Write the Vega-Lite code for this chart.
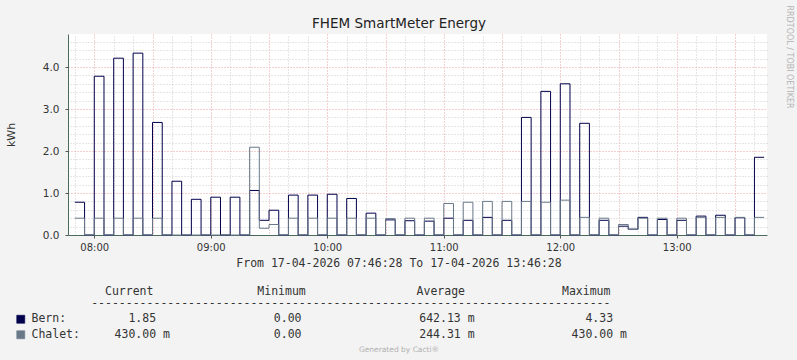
{
  "$schema": "https://vega.github.io/schema/vega-lite/v6.json",
  "width": 699,
  "height": 201,
  "autosize": {"type": "none"},
  "padding": {"left": 68, "top": 34, "right": 30, "bottom": 125},
  "background": "#f3f3f3",
  "view": {"fill": "#ffffff", "stroke": null},
  "data": {
    "values": [
      {"t": "2026-04-17T07:50:00Z", "Bern": 0.78, "Chalet": 0.40},
      {"t": "2026-04-17T07:55:00Z", "Bern": 0, "Chalet": 0},
      {"t": "2026-04-17T08:00:00Z", "Bern": 3.78, "Chalet": 0.40},
      {"t": "2026-04-17T08:05:00Z", "Bern": 0, "Chalet": 0},
      {"t": "2026-04-17T08:10:00Z", "Bern": 4.21, "Chalet": 0.40},
      {"t": "2026-04-17T08:15:00Z", "Bern": 0, "Chalet": 0},
      {"t": "2026-04-17T08:20:00Z", "Bern": 4.33, "Chalet": 0.40},
      {"t": "2026-04-17T08:25:00Z", "Bern": 0, "Chalet": 0},
      {"t": "2026-04-17T08:30:00Z", "Bern": 2.68, "Chalet": 0.40},
      {"t": "2026-04-17T08:35:00Z", "Bern": 0, "Chalet": 0},
      {"t": "2026-04-17T08:40:00Z", "Bern": 1.28, "Chalet": 0},
      {"t": "2026-04-17T08:45:00Z", "Bern": 0, "Chalet": 0},
      {"t": "2026-04-17T08:50:00Z", "Bern": 0.85, "Chalet": 0},
      {"t": "2026-04-17T08:55:00Z", "Bern": 0, "Chalet": 0},
      {"t": "2026-04-17T09:00:00Z", "Bern": 0.90, "Chalet": 0},
      {"t": "2026-04-17T09:05:00Z", "Bern": 0, "Chalet": 0},
      {"t": "2026-04-17T09:10:00Z", "Bern": 0.90, "Chalet": 0},
      {"t": "2026-04-17T09:15:00Z", "Bern": 0, "Chalet": 0},
      {"t": "2026-04-17T09:20:00Z", "Bern": 1.06, "Chalet": 2.09},
      {"t": "2026-04-17T09:25:00Z", "Bern": 0.35, "Chalet": 0.16},
      {"t": "2026-04-17T09:30:00Z", "Bern": 0.59, "Chalet": 0.25},
      {"t": "2026-04-17T09:35:00Z", "Bern": 0, "Chalet": 0},
      {"t": "2026-04-17T09:40:00Z", "Bern": 0.95, "Chalet": 0.40},
      {"t": "2026-04-17T09:45:00Z", "Bern": 0, "Chalet": 0},
      {"t": "2026-04-17T09:50:00Z", "Bern": 0.95, "Chalet": 0.40},
      {"t": "2026-04-17T09:55:00Z", "Bern": 0, "Chalet": 0},
      {"t": "2026-04-17T10:00:00Z", "Bern": 0.97, "Chalet": 0.40},
      {"t": "2026-04-17T10:05:00Z", "Bern": 0, "Chalet": 0},
      {"t": "2026-04-17T10:10:00Z", "Bern": 0.87, "Chalet": 0.40},
      {"t": "2026-04-17T10:15:00Z", "Bern": 0, "Chalet": 0},
      {"t": "2026-04-17T10:20:00Z", "Bern": 0.52, "Chalet": 0.40},
      {"t": "2026-04-17T10:25:00Z", "Bern": 0, "Chalet": 0},
      {"t": "2026-04-17T10:30:00Z", "Bern": 0.36, "Chalet": 0.39},
      {"t": "2026-04-17T10:35:00Z", "Bern": 0, "Chalet": 0},
      {"t": "2026-04-17T10:40:00Z", "Bern": 0.34, "Chalet": 0.40},
      {"t": "2026-04-17T10:45:00Z", "Bern": 0, "Chalet": 0},
      {"t": "2026-04-17T10:50:00Z", "Bern": 0.33, "Chalet": 0.40},
      {"t": "2026-04-17T10:55:00Z", "Bern": 0, "Chalet": 0},
      {"t": "2026-04-17T11:00:00Z", "Bern": 0.40, "Chalet": 0.75},
      {"t": "2026-04-17T11:05:00Z", "Bern": 0, "Chalet": 0},
      {"t": "2026-04-17T11:10:00Z", "Bern": 0.35, "Chalet": 0.78},
      {"t": "2026-04-17T11:15:00Z", "Bern": 0, "Chalet": 0},
      {"t": "2026-04-17T11:20:00Z", "Bern": 0.42, "Chalet": 0.80},
      {"t": "2026-04-17T11:25:00Z", "Bern": 0, "Chalet": 0},
      {"t": "2026-04-17T11:30:00Z", "Bern": 0.35, "Chalet": 0.80},
      {"t": "2026-04-17T11:35:00Z", "Bern": 0, "Chalet": 0},
      {"t": "2026-04-17T11:40:00Z", "Bern": 2.80, "Chalet": 0.80},
      {"t": "2026-04-17T11:45:00Z", "Bern": 0, "Chalet": 0},
      {"t": "2026-04-17T11:50:00Z", "Bern": 3.42, "Chalet": 0.78},
      {"t": "2026-04-17T11:55:00Z", "Bern": 0, "Chalet": 0},
      {"t": "2026-04-17T12:00:00Z", "Bern": 3.60, "Chalet": 0.83},
      {"t": "2026-04-17T12:05:00Z", "Bern": 0, "Chalet": 0},
      {"t": "2026-04-17T12:10:00Z", "Bern": 2.66, "Chalet": 0.42},
      {"t": "2026-04-17T12:15:00Z", "Bern": 0, "Chalet": 0},
      {"t": "2026-04-17T12:20:00Z", "Bern": 0.35, "Chalet": 0.40},
      {"t": "2026-04-17T12:25:00Z", "Bern": 0, "Chalet": 0},
      {"t": "2026-04-17T12:30:00Z", "Bern": 0.21, "Chalet": 0.25},
      {"t": "2026-04-17T12:35:00Z", "Bern": 0.14, "Chalet": 0.13},
      {"t": "2026-04-17T12:40:00Z", "Bern": 0.42, "Chalet": 0.40},
      {"t": "2026-04-17T12:45:00Z", "Bern": 0, "Chalet": 0},
      {"t": "2026-04-17T12:50:00Z", "Bern": 0.37, "Chalet": 0.40},
      {"t": "2026-04-17T12:55:00Z", "Bern": 0, "Chalet": 0},
      {"t": "2026-04-17T13:00:00Z", "Bern": 0.35, "Chalet": 0.40},
      {"t": "2026-04-17T13:05:00Z", "Bern": 0, "Chalet": 0},
      {"t": "2026-04-17T13:10:00Z", "Bern": 0.45, "Chalet": 0.42},
      {"t": "2026-04-17T13:15:00Z", "Bern": 0, "Chalet": 0},
      {"t": "2026-04-17T13:20:00Z", "Bern": 0.47, "Chalet": 0.42},
      {"t": "2026-04-17T13:25:00Z", "Bern": 0, "Chalet": 0},
      {"t": "2026-04-17T13:30:00Z", "Bern": 0.41, "Chalet": 0.42},
      {"t": "2026-04-17T13:35:00Z", "Bern": 0, "Chalet": 0},
      {"t": "2026-04-17T13:40:00Z", "Bern": 1.85, "Chalet": 0.42},
      {"t": "2026-04-17T13:45:00Z", "Bern": 1.85, "Chalet": 0.42}
    ]
  },
  "transform": [{"fold": ["Bern", "Chalet"], "as": ["series", "v"]}],
  "layer": [
    {
      "mark": {"type": "line", "strokeOpacity": 0},
      "encoding": {
        "x": {
          "field": "t", "type": "temporal",
          "scale": {"type": "utc", "domain": [1776411988000, 1776433588000]},
          "axis": {
            "orient": "top", "grid": true,
            "values": [1776412200000, 1776413400000, 1776414000000, 1776415200000, 1776415800000, 1776417000000, 1776417600000, 1776418800000, 1776419400000, 1776420600000, 1776421200000, 1776422400000, 1776423000000, 1776424200000, 1776424800000, 1776426000000, 1776426600000, 1776427800000, 1776428400000, 1776429600000, 1776430200000, 1776431400000, 1776432000000, 1776433200000],
            "gridColor": "#cccccc", "gridDash": [1, 2],
            "labels": false, "ticks": false, "domain": false,
            "title": "FHEM SmartMeter Energy", "titleFont": "DejaVu Sans", "titleFontSize": 13.5, "titleFontWeight": "normal", "titleColor": "#222222",
            "titleX": 330.5, "titleY": -10.5, "titleAlign": "center", "titleBaseline": "middle", "titleAngle": 0
          }
        },
        "y": {
          "field": "v", "type": "quantitative",
          "scale": {"domain": [0, 4.786], "nice": false, "zero": true},
          "axis": {
            "orient": "right", "grid": true,
            "values": [0.2, 0.4, 0.6, 0.8, 1.2, 1.4, 1.6, 1.8, 2.2, 2.4, 2.6, 2.8, 3.2, 3.4, 3.6, 3.8, 4.2, 4.4, 4.6],
            "gridColor": "#cccccc", "gridDash": [1, 2],
            "labels": false, "ticks": false, "domain": false,
            "title": "RRDTOOL / TOBI OETIKER", "titleFont": "DejaVu Sans", "titleFontSize": 8, "titleFontWeight": "normal", "titleColor": "#b4b4b4",
            "titleAngle": 90, "titleX": 21, "titleY": -29, "titleAlign": "left", "titleBaseline": "middle"
          }
        }
      }
    },
    {
      "mark": {"type": "line", "strokeOpacity": 0},
      "encoding": {
        "x": {
          "field": "t", "type": "temporal",
          "scale": {"type": "utc", "domain": [1776411988000, 1776433588000]},
          "axis": {
            "orient": "bottom", "grid": true,
            "values": [1776412800000, 1776414600000, 1776416400000, 1776418200000, 1776420000000, 1776421800000, 1776423600000, 1776425400000, 1776427200000, 1776429000000, 1776430800000, 1776432600000],
            "gridColor": "#eba0a0", "gridDash": [1, 2],
            "labels": false, "ticks": false, "domain": false,
            "title": "Generated by Cacti®", "titleFont": "DejaVu Sans", "titleFontSize": 7.5, "titleFontWeight": "normal", "titleColor": "#b0b0b0",
            "titleX": 330.5, "titleY": 114, "titleAlign": "center", "titleBaseline": "middle", "titleAngle": 0
          }
        },
        "y": {
          "field": "v", "type": "quantitative",
          "scale": {"domain": [0, 4.786], "nice": false, "zero": true},
          "axis": {
            "orient": "left", "grid": true, "values": [1, 2, 3, 4],
            "gridColor": "#eba0a0", "gridDash": [1, 2],
            "labels": false, "ticks": false, "domain": false, "title": null
          }
        }
      }
    },
    {
      "mark": {"type": "line", "interpolate": "step-after", "strokeWidth": 1},
      "encoding": {
        "x": {
          "field": "t", "type": "temporal",
          "scale": {"type": "utc", "domain": [1776411988000, 1776433588000]},
          "axis": {
            "orient": "bottom", "grid": false,
            "values": [1776412800000, 1776416400000, 1776420000000, 1776423600000, 1776427200000, 1776430800000],
            "format": "%H:%M",
            "labelFont": "DejaVu Sans", "labelFontSize": 10, "labelColor": "#333333", "labelPadding": 4,
            "tickSize": 3, "tickColor": "#555555", "domainColor": "#4a6a5a",
            "title": "From 17-04-2026 07:46:28 To 17-04-2026 13:46:28", "titleFont": "DejaVu Sans Mono", "titleFontSize": 11.5, "titleFontWeight": "normal", "titleColor": "#333333",
            "titleX": 330.5, "titleY": 28, "titleAlign": "center", "titleBaseline": "middle"
          }
        },
        "y": {
          "field": "v", "type": "quantitative",
          "scale": {"domain": [0, 4.786], "nice": false, "zero": true},
          "axis": {
            "orient": "left", "grid": false, "values": [0, 1, 2, 3, 4], "format": ".1f",
            "labelFont": "DejaVu Sans", "labelFontSize": 10.5, "labelColor": "#333333", "labelPadding": 6,
            "tickSize": 3, "tickColor": "#555555", "domainColor": "#4a6a5a",
            "title": "kWh", "titleFont": "DejaVu Sans", "titleFontSize": 11, "titleFontWeight": "normal", "titleColor": "#333333",
            "titleX": -57, "titleY": 100.5, "titleAlign": "center", "titleBaseline": "middle", "titleAngle": -90
          }
        },
        "color": {
          "field": "series", "type": "nominal",
          "scale": {"domain": ["Bern", "Chalet"], "range": ["#00004c", "#697989"]},
          "legend": {
            "orient": "none", "legendX": -53, "legendY": 252, "direction": "vertical", "padding": 0,
            "symbolType": "square", "symbolSize": 64, "symbolStrokeWidth": 0.6,
            "title": [
              "\u200b\u00a0\u00a0\u00a0\u00a0\u00a0\u00a0\u00a0\u00a0\u00a0\u00a0\u00a0\u00a0\u00a0Current\u00a0\u00a0\u00a0\u00a0\u00a0\u00a0\u00a0\u00a0\u00a0\u00a0\u00a0\u00a0\u00a0\u00a0\u00a0Minimum\u00a0\u00a0\u00a0\u00a0\u00a0\u00a0\u00a0\u00a0\u00a0\u00a0\u00a0\u00a0\u00a0\u00a0\u00a0\u00a0Average\u00a0\u00a0\u00a0\u00a0\u00a0\u00a0\u00a0\u00a0\u00a0\u00a0\u00a0\u00a0\u00a0\u00a0Maximum",
              "\u200b\u00a0\u00a0\u00a0\u00a0\u00a0\u00a0\u00a0\u00a0\u00a0\u00a0\u00a0---------------------------------------------------------------------------"
            ],
            "titleFont": "DejaVu Sans Mono", "titleFontSize": 11.5, "titleFontWeight": "normal", "titleColor": "#333333",
            "titleLineHeight": 12, "titlePadding": 4, "titleLimit": 800, "titleAlign": "left",
            "labelFont": "DejaVu Sans Mono", "labelFontSize": 11.5, "labelColor": "#333333", "labelLimit": 800, "labelOffset": 5,
            "rowPadding": 2.5,
            "labelExpr": "datum.label == 'Bern' ? 'Bern:\u00a0\u00a0\u00a0\u00a0\u00a0\u00a0\u00a0\u00a0\u00a01.85\u00a0\u00a0\u00a0\u00a0\u00a0\u00a0\u00a0\u00a0\u00a0\u00a0\u00a0\u00a0\u00a0\u00a0\u00a0\u00a0\u00a00.00\u00a0\u00a0\u00a0\u00a0\u00a0\u00a0\u00a0\u00a0\u00a0\u00a0\u00a0\u00a0\u00a0\u00a0\u00a0\u00a0\u00a0642.13\u00a0m\u00a0\u00a0\u00a0\u00a0\u00a0\u00a0\u00a0\u00a0\u00a0\u00a0\u00a0\u00a0\u00a0\u00a0\u00a0\u00a04.33' : 'Chalet:\u00a0\u00a0\u00a0\u00a0\u00a0430.00\u00a0m\u00a0\u00a0\u00a0\u00a0\u00a0\u00a0\u00a0\u00a0\u00a0\u00a0\u00a0\u00a0\u00a0\u00a0\u00a00.00\u00a0\u00a0\u00a0\u00a0\u00a0\u00a0\u00a0\u00a0\u00a0\u00a0\u00a0\u00a0\u00a0\u00a0\u00a0\u00a0\u00a0244.31\u00a0m\u00a0\u00a0\u00a0\u00a0\u00a0\u00a0\u00a0\u00a0\u00a0\u00a0\u00a0\u00a0\u00a0\u00a0430.00\u00a0m'",
            "encode": {"symbols": {"update": {"fill": {"scale": "color", "field": "value"}, "fillOpacity": {"value": 1}, "stroke": {"value": "#555555"}}}}
          }
        }
      }
    }
  ],
  "resolve": {"axis": {"x": "independent", "y": "independent"}}
}
